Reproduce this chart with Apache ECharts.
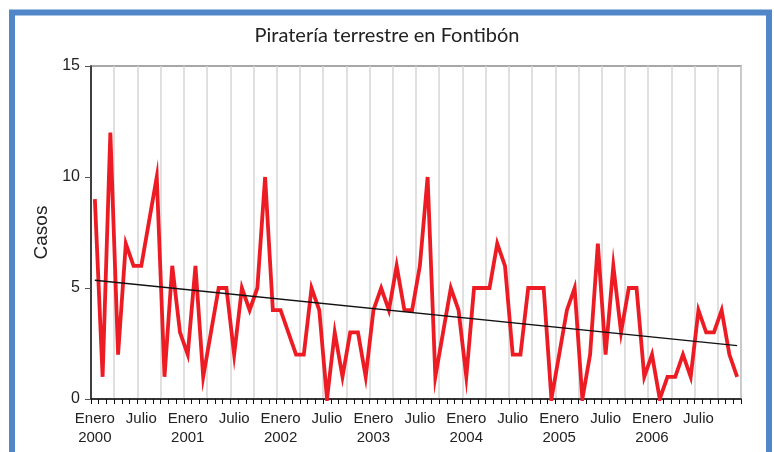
<!DOCTYPE html>
<html>
<head>
<meta charset="utf-8">
<script src="https://cdn.jsdelivr.net/npm/echarts@6/dist/echarts.min.js"></script>
<style>
html,body{margin:0;padding:0;background:#fff;}
#main{width:774px;height:452px;}
</style>
</head>
<body>
<div id="main"></div>
<script>
/* datos: casos mensuales de pirateria terrestre, Fontibon 2000-2006 */
var anios = [2000, 2001, 2002, 2003, 2004, 2005, 2006];
var meses = ['Enero', 'Febrero', 'Marzo', 'Abril', 'Mayo', 'Junio', 'Julio', 'Agosto', 'Septiembre', 'Octubre', 'Noviembre', 'Diciembre'];
var casos2000 = [9, 1, 12, 2, 7, 6, 6, 8, 10, 1, 6, 3];
var casos2001 = [2, 6, 1, 3, 5, 5, 2, 5, 4, 5, 10, 4];
var casos2002 = [4, 3, 2, 2, 5, 4, 0, 3, 1, 3, 3, 1];
var casos2003 = [4, 5, 4, 6, 4, 4, 6, 10, 1, 3, 5, 4];
var casos2004 = [1, 5, 5, 5, 7, 6, 2, 2, 5, 5, 5, 0];
var casos2005 = [2, 4, 5, 0, 2, 7, 2, 6, 3, 5, 5, 1];
var casos2006 = [2, 0, 1, 1, 2, 1, 4, 3, 3, 4, 2, 1];
// tendencia lineal: valor al inicio y al final
var tendencia = [5.35, 2.4];
var yTicks = [0, 5, 10, 15];

var categorias = [];
anios.forEach(function(a) {
	meses.forEach(function(m) {
		categorias.push(m + ' ' + a);
	});
});
var casos = [].concat(casos2000, casos2001, casos2002, casos2003, casos2004, casos2005, casos2006);
var lineaTend = categorias.map(function() { return null; });
lineaTend[0] = tendencia[0];
lineaTend[lineaTend.length - 1] = tendencia[1];

var myChart = echarts.init(document.getElementById('main'));
var option = {
	backgroundColor: '#fff',
	animation: false,
	title: {
		text: 'Piratería terrestre en Fontibón',
		left: 'center',
		top: 21,
		textStyle: {
			fontFamily: 'Lato',
			fontWeight: 'normal',
			fontSize: 20,
			color: '#222'
		}
	},
	graphic: [{
		type: 'rect',
		shape: { x: 12, y: 12.5, width: 757, height: 460 },
		style: { fill: 'none', stroke: '#5187c8', lineWidth: 6 },
		silent: true
	}],
	grid: {
		left: 91,
		right: 33,
		top: 66,
		bottom: 53,
		show: true,
		borderColor: '#8a8a8a',
		borderWidth: 1.5
	},
	xAxis: {
		type: 'category',
		data: categorias,
		boundaryGap: true,
		axisLine: { lineStyle: { color: '#111', width: 1.5 } },
		axisTick: { show: true, interval: 0, length: 5, lineStyle: { color: '#111' } },
		splitLine: {
			show: true,
			interval: function(index) { return index % 3 === 0; },
			lineStyle: { color: '#d6d6d6', width: 1.5 }
		},
		axisLabel: {
			interval: function(index) { return index % 6 === 0; },
			margin: 10,
			fontFamily: 'Liberation Sans',
			fontSize: 15,
			lineHeight: 19,
			color: '#222',
			formatter: function(value) {
				var p = value.split(' ');
				if (p[0] == 'Enero') return 'Enero\n' + p[1];
				if (p[0] == 'Julio') return 'Julio';
				return '';
			}
		}
	},
	yAxis: {
		type: 'value',
		name: 'Casos',
		nameLocation: 'middle',
		nameGap: 35,
		nameTextStyle: { fontFamily: 'Liberation Sans', fontSize: 19, color: '#222' },
		min: yTicks[0],
		max: yTicks[yTicks.length - 1],
		interval: 5,
		axisLine: { show: true, lineStyle: { color: '#111', width: 1.5 } },
		axisTick: { show: true, length: 6, lineStyle: { color: '#555' } },
		splitLine: { show: false },
		axisLabel: { margin: 11, fontFamily: 'Liberation Sans', fontSize: 16, color: '#222' }
	},
	series: [{
		name: 'Casos',
		type: 'line',
		data: casos,
		showSymbol: false,
		lineStyle: { color: '#ed1c24', width: 3.8, join: 'miter', miterLimit: 10 },
		z: 3
	}, {
		name: 'Tendencia',
		type: 'line',
		data: lineaTend,
		connectNulls: true,
		showSymbol: false,
		lineStyle: { color: '#111', width: 1.3 },
		z: 4
	}]
};
myChart.setOption(option);
</script>
</body>
</html>
